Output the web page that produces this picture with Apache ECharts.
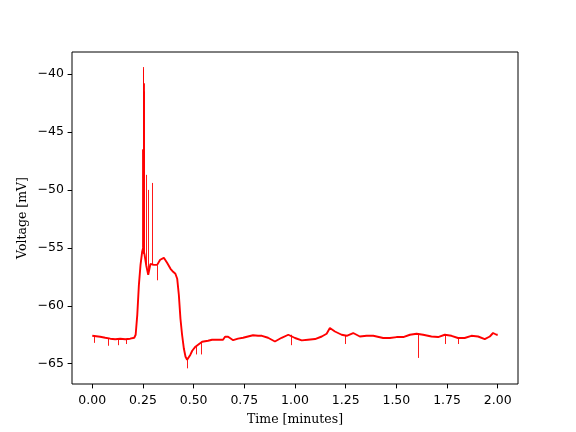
<!DOCTYPE html>
<html>
<head>
<meta charset="utf-8">
<script src="https://cdn.jsdelivr.net/npm/echarts@6/dist/echarts.min.js"></script>
<style>html,body{margin:0;padding:0;background:#fff}#c{width:576px;height:432px}</style>
</head>
<body>
<div id="c"></div>
<script>
// Membrane voltage trace (time in minutes, voltage in mV)
const times = [0.000,0.039,0.064,0.089,0.113,0.138,0.163,0.187,0.207,0.214,0.222,0.230,0.238,0.246,0.251,0.258,0.266,0.276,0.287,0.304,0.320,0.335,0.353,0.369,0.386,0.399,0.410,0.419,0.427,0.435,0.443,0.452,0.460,0.468,0.484,0.493,0.509,0.522,0.542,0.571,0.591,0.621,0.645,0.655,0.670,0.695,0.719,0.744,0.768,0.793,0.818,0.837,0.867,0.901,0.934,0.967,0.975,1.000,1.033,1.064,1.099,1.132,1.156,1.172,1.197,1.230,1.255,1.287,1.320,1.353,1.386,1.435,1.468,1.501,1.534,1.567,1.600,1.632,1.673,1.706,1.739,1.772,1.804,1.837,1.870,1.903,1.936,1.961,1.977,1.994,2.000];
const voltages = [-62.59,-62.67,-62.76,-62.84,-62.89,-62.84,-62.89,-62.84,-62.76,-62.50,-60.78,-58.19,-56.47,-55.34,-55.0,-55.6,-56.5,-57.33,-56.38,-56.47,-56.47,-56.03,-55.86,-56.29,-56.81,-57.07,-57.24,-57.67,-59.05,-61.12,-62.50,-63.71,-64.40,-64.66,-64.22,-63.88,-63.53,-63.36,-63.10,-63.02,-62.93,-62.93,-62.93,-62.67,-62.67,-62.97,-62.84,-62.76,-62.65,-62.54,-62.59,-62.59,-62.76,-63.08,-62.76,-62.50,-62.41,-62.78,-62.99,-62.93,-62.87,-62.65,-62.41,-61.92,-62.22,-62.50,-62.59,-62.35,-62.65,-62.59,-62.59,-62.78,-62.78,-62.70,-62.70,-62.50,-62.41,-62.50,-62.65,-62.70,-62.50,-62.59,-62.78,-62.78,-62.59,-62.65,-62.87,-62.65,-62.35,-62.50,-62.50];
// Fast transients: time, start voltage, end voltage
const spikeTimes = [0.248,0.251,0.252,0.253,0.254,0.255,0.265,0.276,0.294,0.010,0.080,0.126,0.167,0.322,0.468,0.512,0.540,0.980,1.246,1.607,1.739,1.804];
const spikeFrom  = [-55.0,-55.5,-55.5,-55.5,-55.5,-55.5,-56.5,-57.0,-56.5,-62.6,-62.8,-62.9,-62.9,-56.5,-64.5,-63.5,-63.1,-62.5,-62.6,-62.5,-62.5,-62.8];
const spikeTo    = [-46.5,-39.4,-39.6,-40.2,-40.8,-41.5,-48.7,-50.0,-49.4,-63.2,-63.45,-63.4,-63.3,-57.8,-65.4,-64.2,-64.2,-63.4,-63.3,-64.5,-63.3,-63.3];
const xTicks = [0,0.25,0.5,0.75,1.0,1.25,1.5,1.75,2.0];
const yTicks = [-65,-60,-55,-50,-45,-40];

const lineData = times.map((t,i)=>[t, voltages[i]]);
const spikeData = spikeTimes.map((t,i)=>({coords:[[t, spikeFrom[i]],[t, spikeTo[i]]]}));

const chart = echarts.init(document.getElementById('c'), null, {renderer:'canvas'});
const tickFont = {fontFamily:'DejaVu Sans', fontSize:12.5, color:'#000'};
const nameFont = {fontFamily:'DejaVu Serif', fontSize:12.5, color:'#000'};
chart.setOption({
  animation:false,
  backgroundColor:'#fff',
  grid:{left:72, right:58, top:52, bottom:48, show:true, borderColor:'#000', borderWidth:1, backgroundColor:'transparent'},
  xAxis:{
    type:'value', min:-0.1, max:2.1,
    name:'Time [minutes]', nameLocation:'middle', nameGap:29, nameMoveOverlap:false,
    nameTextStyle:nameFont,
    axisLine:{show:false, onZero:false},
    axisTick:{show:true, length:4.4, inside:false, lineStyle:{color:'#000', width:1}, customValues:xTicks},
    axisLabel:Object.assign({margin:10, customValues:xTicks, formatter:v=>v.toFixed(2)}, tickFont),
    splitLine:{show:false}
  },
  yAxis:{
    type:'value', min:-66.75, max:-38.1,
    name:'Voltage [mV]', nameLocation:'middle', nameGap:43, nameMoveOverlap:false,
    nameTextStyle:nameFont,
    axisLine:{show:false, onZero:false},
    axisTick:{show:true, length:4.4, inside:false, lineStyle:{color:'#000', width:1}, customValues:yTicks},
    axisLabel:Object.assign({margin:8, customValues:yTicks, formatter:v=>String(v).replace('-','\u2212')}, tickFont),
    splitLine:{show:false}
  },
  series:[
    {type:'line', data:lineData, showSymbol:false, symbol:'none', lineStyle:{color:'#ff0000', width:1.9}, z:2},
    {type:'lines', coordinateSystem:'cartesian2d', data:spikeData, lineStyle:{color:'#ff0000', width:1, opacity:0.9}, z:3}
  ]
});
</script>
</body>
</html>
